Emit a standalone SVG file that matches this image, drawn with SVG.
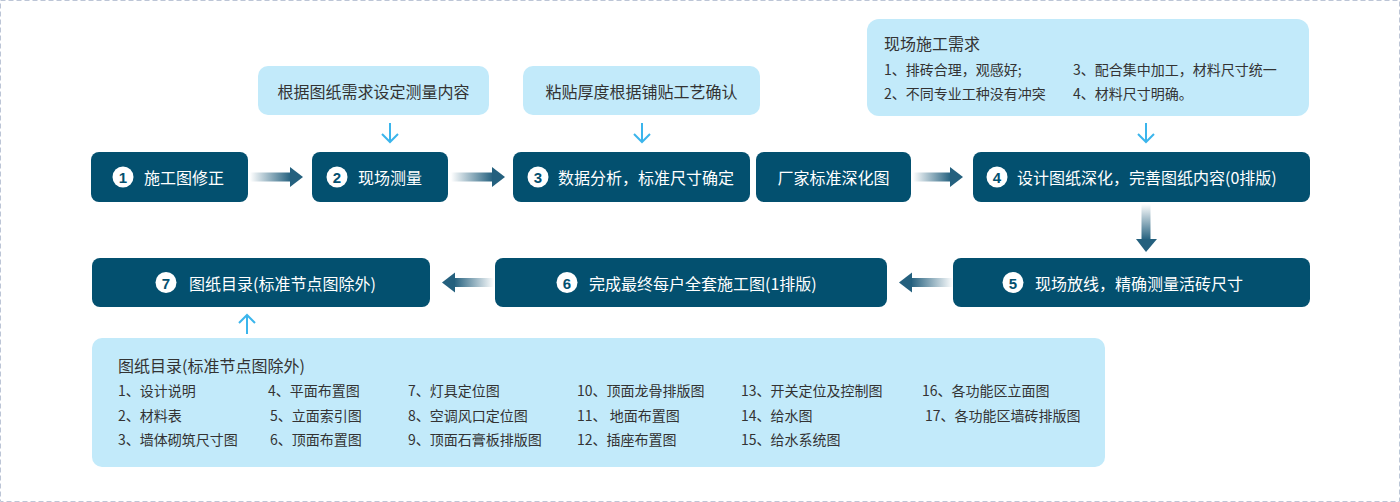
<svg xmlns="http://www.w3.org/2000/svg" width="1400" height="502" viewBox="0 0 1400 502">
<style>
.dk{fill:#03506f}
.lt{fill:#c2eafa}
.wt{font-family:"Noto Sans CJK SC","Microsoft YaHei",sans-serif;font-size:16px;fill:#ffffff;dominant-baseline:central}
.gt{font-family:"Noto Sans CJK SC","Microsoft YaHei",sans-serif;font-size:16px;fill:#333333;dominant-baseline:central}
.st{font-family:"Noto Sans CJK SC","Microsoft YaHei",sans-serif;font-size:14px;fill:#333333;dominant-baseline:central}
.num{font-family:"Liberation Sans",Arial,sans-serif;font-size:15px;font-weight:bold;fill:#03506f;text-anchor:middle;dominant-baseline:central}
.cir{fill:#ffffff}
.la{fill:none;stroke:#3bb5ec;stroke-width:2}
</style>
<defs>
<linearGradient id="gr" x1="0" y1="0" x2="1" y2="0">
<stop offset="0" stop-color="#24607e" stop-opacity="0"/>
<stop offset="1" stop-color="#24607e" stop-opacity="1"/>
</linearGradient>
<linearGradient id="gl" x1="1" y1="0" x2="0" y2="0">
<stop offset="0" stop-color="#24607e" stop-opacity="0"/>
<stop offset="1" stop-color="#24607e" stop-opacity="1"/>
</linearGradient>
<linearGradient id="gd" x1="0" y1="0" x2="0" y2="1">
<stop offset="0" stop-color="#24607e" stop-opacity="0"/>
<stop offset="1" stop-color="#24607e" stop-opacity="1"/>
</linearGradient>
</defs>
<rect x="0.5" y="0.5" width="1399" height="501" fill="#ffffff" stroke="#bcc5d6" stroke-width="1" stroke-dasharray="5 3"/>

<g id="connectors">
<rect x="250" y="172.5" width="41" height="9" fill="url(#gr)"/>
<polygon points="290,167 303,177 290,187" fill="#24607e"/>
<rect x="451" y="172.5" width="42" height="9" fill="url(#gr)"/>
<polygon points="492,167 505,177 492,187" fill="#24607e"/>
<rect x="913" y="172.5" width="38" height="9" fill="url(#gr)"/>
<polygon points="950,167 963,177 950,187" fill="#24607e"/>
<rect x="1141.5" y="204" width="9" height="36" fill="url(#gd)"/>
<polygon points="1136,239 1157,239 1146,252" fill="#24607e"/>
<rect x="911" y="278" width="42" height="9" fill="url(#gl)"/>
<polygon points="912,272.5 899,282.5 912,292.5" fill="#24607e"/>
<rect x="454" y="278" width="40" height="9" fill="url(#gl)"/>
<polygon points="455,272.5 442,282.5 455,292.5" fill="#24607e"/>
<path class="la" d="M390,123 V142 M382,134 L390,142 L398,134"/>
<path class="la" d="M642,123 V142 M634,134 L642,142 L650,134"/>
<path class="la" d="M1146,123 V142 M1138,134 L1146,142 L1154,134"/>
<path class="la" d="M247,334 V315 M239,323 L247,315 L255,323"/>
</g>

<g id="note-measure">
<rect class="lt" x="258" y="66" width="231" height="49" rx="10"/>
<text class="gt" x="373.5" y="90.5" text-anchor="middle">根据图纸需求设定测量内容</text>
</g>
<g id="note-thickness">
<rect class="lt" x="523" y="66" width="237" height="49" rx="10"/>
<text class="gt" x="641.5" y="90.5" text-anchor="middle">粘贴厚度根据铺贴工艺确认</text>
</g>
<g id="note-site">
<rect class="lt" x="867" y="19" width="442" height="97" rx="12"/>
<text class="gt" x="884" y="43">现场施工需求</text>
<text class="st" x="884" y="69">1、排砖合理，观感好;</text>
<text class="st" x="1073" y="69">3、配合集中加工，材料尺寸统一</text>
<text class="st" x="884" y="93">2、不同专业工种没有冲突</text>
<text class="st" x="1073" y="93">4、材料尺寸明确。</text>
</g>

<g id="node1">
<rect class="dk" x="91" y="152" width="157" height="50" rx="8"/>
<circle class="cir" cx="123" cy="177" r="10.5"/>
<text class="num" x="123" y="177.5">1</text>
<text class="wt" x="144" y="177">施工图修正</text>
</g>
<g id="node2">
<rect class="dk" x="312" y="152" width="136" height="50" rx="8"/>
<circle class="cir" cx="337" cy="177" r="10.5"/>
<text class="num" x="337" y="177.5">2</text>
<text class="wt" x="358" y="177">现场测量</text>
</g>
<g id="node3">
<rect class="dk" x="513" y="152" width="237" height="50" rx="8"/>
<circle class="cir" cx="538" cy="177" r="10.5"/>
<text class="num" x="538" y="177.5">3</text>
<text class="wt" x="558" y="177">数据分析，标准尺寸确定</text>
</g>
<g id="node-factory">
<rect class="dk" x="756" y="152" width="155" height="50" rx="8"/>
<text class="wt" x="833.5" y="177" text-anchor="middle">厂家标准深化图</text>
</g>
<g id="node4">
<rect class="dk" x="973" y="152" width="337" height="50" rx="8"/>
<circle class="cir" cx="997" cy="177" r="10.5"/>
<text class="num" x="997" y="177.5">4</text>
<text class="wt" x="1017" y="177">设计图纸深化，完善图纸内容(0排版)</text>
</g>
<g id="node5">
<rect class="dk" x="953" y="258" width="357" height="49" rx="8"/>
<circle class="cir" cx="1013" cy="282.5" r="10.5"/>
<text class="num" x="1013" y="283">5</text>
<text class="wt" x="1035" y="282.5">现场放线，精确测量活砖尺寸</text>
</g>
<g id="node6">
<rect class="dk" x="495" y="258" width="392" height="49" rx="8"/>
<circle class="cir" cx="567" cy="282.5" r="10.5"/>
<text class="num" x="567" y="283">6</text>
<text class="wt" x="589" y="282.5">完成最终每户全套施工图(1排版)</text>
</g>
<g id="node7">
<rect class="dk" x="92" y="258" width="338" height="49" rx="8"/>
<circle class="cir" cx="166" cy="282.5" r="10.5"/>
<text class="num" x="166" y="283">7</text>
<text class="wt" x="189" y="282.5">图纸目录(标准节点图除外)</text>
</g>

<g id="note-catalog">
<rect class="lt" x="92" y="338" width="1013" height="129" rx="10"/>
<text class="gt" x="118" y="365">图纸目录(标准节点图除外)</text>
<text class="st" x="118" y="390">1、设计说明</text>
<text class="st" x="118" y="415">2、材料表</text>
<text class="st" x="118" y="439">3、墙体砌筑尺寸图</text>
<text class="st" x="268" y="390">4、平面布置图</text>
<text class="st" x="270" y="415">5、立面索引图</text>
<text class="st" x="270" y="439">6、顶面布置图</text>
<text class="st" x="408" y="390">7、灯具定位图</text>
<text class="st" x="408" y="415">8、空调风口定位图</text>
<text class="st" x="408" y="439">9、顶面石膏板排版图</text>
<text class="st" x="577" y="390">10、顶面龙骨排版图</text>
<text class="st" x="577" y="415">11、 地面布置图</text>
<text class="st" x="577" y="439">12、插座布置图</text>
<text class="st" x="741" y="390">13、开关定位及控制图</text>
<text class="st" x="741" y="415">14、给水图</text>
<text class="st" x="741" y="439">15、给水系统图</text>
<text class="st" x="922" y="390">16、各功能区立面图</text>
<text class="st" x="925" y="415">17、各功能区墙砖排版图</text>
</g>
</svg>
